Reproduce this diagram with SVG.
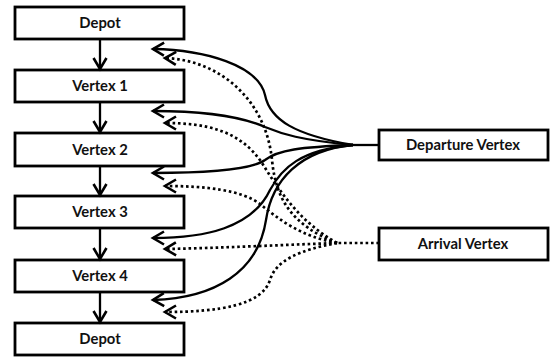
<svg xmlns="http://www.w3.org/2000/svg" width="550" height="358" viewBox="0 0 550 358">
<style>
.box rect{fill:#fff;stroke:#000;stroke-width:2.8}
.box text{font-family:Lato,"Liberation Sans",sans-serif;font-weight:bold;font-size:14.8px;text-anchor:middle;fill:#111}
.c{fill:none;stroke:#000;stroke-width:2.3}
.s{marker-end:url(#ah)}
.d{stroke-dasharray:2.6 2.8;stroke-width:2.7;marker-end:url(#ah)}
</style>
<defs>
<marker id="ah" markerUnits="userSpaceOnUse" markerWidth="20" markerHeight="20" refX="0" refY="0" viewBox="-13 -10 15 20" orient="auto" overflow="visible">
<path d="M-11,-6.5 L0,0 L-11,6.5" fill="none" stroke="#000" stroke-width="2.6" stroke-dasharray="none"/>
</marker>
</defs>
<g id="depot-start" class="box"><rect x="15" y="7" width="169" height="32"/><text x="100" y="28">Depot</text></g>
<g id="vertex1" class="box"><rect x="15" y="70" width="169" height="32"/><text x="100" y="91">Vertex 1</text></g>
<g id="vertex2" class="box"><rect x="15" y="133" width="169" height="33"/><text x="100" y="154.5">Vertex 2</text></g>
<g id="vertex3" class="box"><rect x="15" y="196" width="169" height="32"/><text x="100" y="217">Vertex 3</text></g>
<g id="vertex4" class="box"><rect x="15" y="260" width="169" height="32"/><text x="100" y="281">Vertex 4</text></g>
<g id="depot-end" class="box"><rect x="15" y="323" width="169" height="32"/><text x="100" y="344">Depot</text></g>
<g id="departure" class="box"><rect x="379" y="130" width="169" height="30"/><text x="463" y="150">Departure Vertex</text></g>
<g id="arrival" class="box"><rect x="379" y="228" width="169" height="32"/><text x="463" y="249">Arrival Vertex</text></g>
<g id="connectors">
<path class="c s" d="M100,39 L100,69"/>
<path class="c s" d="M100,102 L100,132"/>
<path class="c s" d="M100,166 L100,195"/>
<path class="c s" d="M100,228 L100,259"/>
<path class="c s" d="M100,292 L100,322"/>
<path class="c" d="M379,145 L353,145"/>
<path class="c s" d="M353,145 C295,135 270,120 265,95 C258,65 205,50 153,49"/>
<path class="c s" d="M353,145 C300,140 282,134 265,127 C240,116 200,111 153,111"/>
<path class="c s" d="M353,145 C300,147 278,150 265,160 C250,171 200,173 153,173"/>
<path class="c s" d="M353,145 C300,150 282,168 270,190 C252,228 205,238 153,238"/>
<path class="c s" d="M353,145 C300,150 272,180 266,220 C258,272 215,298 153,300"/>
<path class="c d" d="M379,243 L337,243" style="marker-end:none"/>
<path class="c d" d="M337,243 C292,225 276,200 272,160 C266,100 220,60 165,58"/>
<path class="c d" d="M337,243 C300,222 280,192 262,163 C240,130 205,123 165,123"/>
<path class="c d" d="M337,243 C300,236 280,220 260,204 C242,190 205,186 165,186"/>
<path class="c d" d="M337,243 C280,245 220,248 165,249"/>
<path class="c d" d="M337,243 C300,250 276,260 270,280 C262,305 220,312 165,312"/>
</g>
</svg>
